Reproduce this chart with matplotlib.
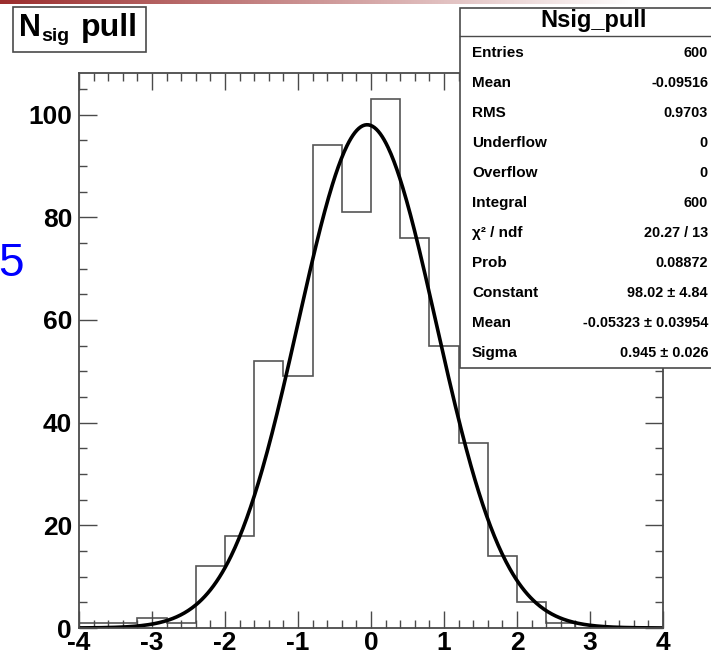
import numpy as np
import matplotlib
matplotlib.use("Agg")
import matplotlib.pyplot as plt
from matplotlib.patches import Rectangle
from matplotlib.ticker import MultipleLocator

# ============================================================
# Data
# ============================================================

bin_edges = np.linspace(-4.0, 4.0, 21)          # 20 bins of width 0.4
counts = [1, 1, 2, 1, 12, 18, 52, 49, 94, 81,
          103, 76, 55, 36, 14, 5, 1, 0, 0, 0]

x_ticks = [-4, -3, -2, -1, 0, 1, 2, 3, 4]
y_ticks = [0, 20, 40, 60, 80, 100]

# Gaussian fit parameters printed in the stats box
fit_const = 98.02
fit_mean = -0.05323
fit_sigma = 0.945

stat_labels = ["Entries", "Mean", "RMS", "Underflow", "Overflow", "Integral",
               "\u03c7\u00b2 / ndf", "Prob", "Constant", "Mean", "Sigma"]
stat_values = ["600", "-0.09516", "0.9703", "0", "0", "600",
               "20.27 / 13", "0.08872", "98.02 \u00b1 4.84",
               "-0.05323 \u00b1 0.03954", "0.945 \u00b1 0.026"]

# ============================================================
# Layout helpers (pixel coords, origin top-left)
# ============================================================

W, H = 711, 656
FONT = "Liberation Sans"
FRAME = "#4a4a4a"


def fx(x):
    return x / W


def fy(y):
    return 1 - y / H


fig = plt.figure(figsize=(W / 100, H / 100), dpi=100)
fig.patch.set_facecolor("white")

# ── slide header gradient ─────────────────────────────────────────
bar = fig.add_axes([0, fy(4), 1, 4 / H])
t = np.clip(np.linspace(0, 1.12, 400), 0, 1)[None, :, None]
c0 = np.array([155, 45, 45]) / 255
c1 = np.array([1.0, 1.0, 1.0])
bar.imshow(c0 * (1 - t) + c1 * t, aspect="auto", extent=[0, 1, 0, 1])
bar.axis("off")

# ── main histogram ────────────────────────────────────────────────
ax_l, ax_r, ax_t, ax_b = 79, 663, 73, 628
ax = fig.add_axes([fx(ax_l), fy(ax_b), (ax_r - ax_l) / W, (ax_b - ax_t) / H])

ax.stairs(counts, bin_edges, color="#555555", linewidth=1.2)

xs = np.linspace(-4, 4, 600)
ax.plot(xs, fit_const * np.exp(-0.5 * ((xs - fit_mean) / fit_sigma) ** 2),
        color="black", linewidth=2.6)

ax.set_xlim(-4, 4)
ax.set_ylim(0, 108.1)
ax.set_xticks(x_ticks)
ax.set_xticklabels([str(v) for v in x_ticks])
ax.set_yticks(y_ticks)
ax.set_yticklabels([str(v) for v in y_ticks])
ax.xaxis.set_minor_locator(MultipleLocator(0.2))
ax.yaxis.set_minor_locator(MultipleLocator(5))

for s in ax.spines.values():
    s.set_color(FRAME)
    s.set_linewidth(1.3)

ax.tick_params(which="both", direction="in", top=True, right=True,
               color=FRAME, width=1.0)
ax.tick_params(axis="x", which="major", length=12, pad=2)
ax.tick_params(axis="x", which="minor", length=5.5)
ax.tick_params(axis="y", which="major", length=13, pad=5)
ax.tick_params(axis="y", which="minor", length=6)
for lab in ax.get_xticklabels() + ax.get_yticklabels():
    lab.set_fontfamily(FONT)
    lab.set_fontweight("bold")
    lab.set_fontsize(19)

# ── title box ─────────────────────────────────────────────────────
fig.patches.append(Rectangle((fx(13), fy(52)), (146 - 13) / W, (52 - 7) / H,
                             transform=fig.transFigure, facecolor="white",
                             edgecolor=FRAME, linewidth=1.2, zorder=5))
title_kw = dict(fontfamily=FONT, fontweight="bold", va="baseline",
                ha="left", zorder=6)
fig.text(fx(19), fy(36), "N", fontsize=22, **title_kw)
fig.text(fx(41.5), fy(41), "sig", fontsize=14, **title_kw)
fig.text(fx(81), fy(36), "pull", fontsize=23, **title_kw)

# ── stats box ─────────────────────────────────────────────────────
sb_l, sb_r, sb_t, sb_b = 460, 712, 8, 368
fig.patches.append(Rectangle((fx(sb_l), fy(sb_b)), (sb_r - sb_l) / W,
                             (sb_b - sb_t) / H, transform=fig.transFigure,
                             facecolor="white", edgecolor=FRAME,
                             linewidth=1.2, zorder=5))
fig.add_artist(plt.Line2D([fx(sb_l), fx(sb_r)], [fy(36), fy(36)],
                          color=FRAME, linewidth=1.0, zorder=6))
fig.text(fx(594), fy(21), "Nsig_pull", ha="center", va="center",
         fontfamily=FONT, fontweight="bold", fontsize=17, zorder=6)

for i, (lab, val) in enumerate(zip(stat_labels, stat_values)):
    yy = fy(53 + 30 * i)
    fig.text(fx(472), yy, lab, ha="left", va="center", fontfamily=FONT,
             fontweight="bold", fontsize=11, zorder=6)
    fig.text(fx(708), yy, val, ha="right", va="center", fontfamily=FONT,
             fontweight="bold", fontsize=10.4, zorder=6)

# ── stray slide digit on the left ─────────────────────────────────
fig.text(fx(-2), fy(276), "5", ha="left", va="baseline", color="#0000ff",
         fontfamily=FONT, fontsize=33)

fig.savefig("out.png", dpi=100)
